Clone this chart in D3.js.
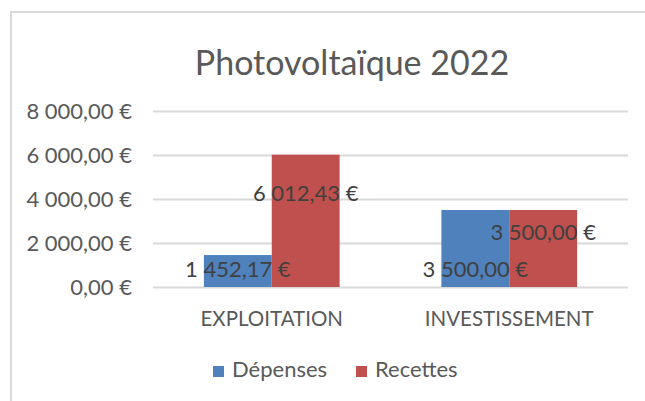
<!DOCTYPE html>
<html>
<head>
<meta charset="utf-8">
<script src="https://cdn.jsdelivr.net/npm/d3@7"></script>
<style>
  body { margin: 0; background: #fff; }
  text { font-family: Lato, "Open Sans", sans-serif; }
</style>
</head>
<body>
<div id="graphic"></div>
<script>
const categories = ["EXPLOITATION", "INVESTISSEMENT"];
const seriesNames = ["Dépenses", "Recettes"];
const depenses = [1452.17, 3500];
const recettes = [6012.43, 3500];
const yTicks = [0, 2000, 4000, 6000, 8000];
const colours = ["#4F81BD", "#C0504D"];

const width = 645, height = 401;
const margin = { top: 111, right: 17, bottom: 114, left: 153 };

const fr = d3.formatLocale({ decimal: ",", thousands: "\u00a0", grouping: [3], currency: ["", "\u00a0€"] });
const fmt = d => fr.format(",.2f")(d).replace(/\u00a0/g, " ") + " €";

const data = categories.map((c, i) => ({ cat: c, values: [depenses[i], recettes[i]] }));

const svg = d3.select("#graphic").append("svg")
  .attr("width", width).attr("height", height);

// chart frame
svg.append("path")
  .attr("d", "M11,401 V12 H645")
  .attr("fill", "none").attr("stroke", "#D9D9D9").attr("stroke-width", 2);

// title
svg.append("text")
  .attr("x", 352).attr("y", 75)
  .attr("text-anchor", "middle")
  .attr("font-size", 34).attr("fill", "#595959")
  .text("Photovoltaïque 2022");

const x0 = d3.scaleBand().domain(categories).range([margin.left, width - margin.right]);
const barW = x0.bandwidth() / 3.5;
const x1 = d3.scaleBand().domain(seriesNames).range([0.75 * barW, x0.bandwidth() - 0.75 * barW]);
const y = d3.scaleLinear().domain([0, 8000]).range([height - margin.bottom, margin.top]);

// gridlines + y labels
const yAxis = svg.append("g")
  .attr("transform", "translate(" + margin.left + ",0)")
  .call(d3.axisLeft(y).tickValues(yTicks).tickFormat(fmt).tickSize(-(width - margin.left - margin.right)).tickPadding(21));
yAxis.select(".domain").remove();
yAxis.selectAll("line").attr("stroke", "#D9D9D9").attr("stroke-width", 2);
yAxis.selectAll("text").attr("font-size", 22).attr("fill", "#595959")
  .style("font-family", "Lato, sans-serif");

// bars
const groups = svg.append("g").selectAll("g")
  .data(data).join("g")
  .attr("transform", d => "translate(" + x0(d.cat) + ",0)");

groups.selectAll("rect")
  .data(d => d.values.map((v, i) => ({ s: seriesNames[i], v: v, i: i })))
  .join("rect")
  .attr("x", d => x1(d.s))
  .attr("y", d => y(d.v))
  .attr("width", x1.bandwidth())
  .attr("height", d => y(0) - y(d.v))
  .attr("fill", d => colours[d.i]);

// data labels (Dépenses: inside base, Recettes: upper part of bar)
groups.selectAll("text.label")
  .data(d => d.values.map((v, i) => ({ s: seriesNames[i], v: v, i: i })))
  .join("text").attr("class", "label")
  .attr("x", d => x1(d.s) + x1.bandwidth() / 2)
  .attr("y", d => d.i === 0 ? y(0) - 18 : y(d.v) + 0.29 * (y(0) - y(d.v)))
  .attr("dy", "0.35em")
  .attr("text-anchor", "middle")
  .attr("font-size", 22).attr("fill", "#404040")
  .text(d => fmt(d.v));

// category labels
svg.append("g").selectAll("text")
  .data(categories).join("text")
  .attr("x", d => x0(d) + x0.bandwidth() / 2)
  .attr("y", 326)
  .attr("text-anchor", "middle")
  .attr("font-size", 20.5).attr("fill", "#595959")
  .text(d => d);

// legend
const legend = svg.append("g").selectAll("g")
  .data(seriesNames).join("g")
  .attr("transform", (d, i) => "translate(" + (213 + i * 143) + ",366)");
legend.append("rect").attr("width", 11).attr("height", 11).attr("fill", (d, i) => colours[i]);
legend.append("text")
  .attr("x", 19).attr("y", 11)
  .attr("font-size", 22).attr("fill", "#595959")
  .text(d => d);
</script>
</body>
</html>
